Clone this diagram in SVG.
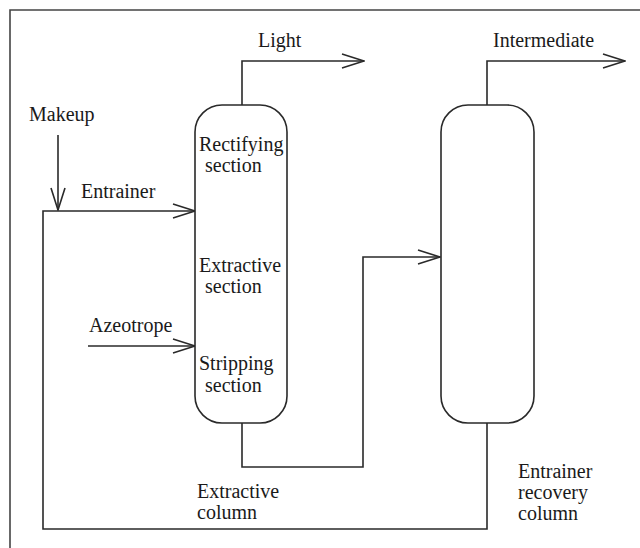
<svg xmlns="http://www.w3.org/2000/svg" width="640" height="548" viewBox="0 0 640 548">
<defs>
<style>
.ln{fill:none;stroke:#2a2a2a;stroke-width:1.6;stroke-linejoin:miter}
.fr{fill:none;stroke:#444;stroke-width:1.6}
.col{fill:#fff;stroke:#2a2a2a;stroke-width:1.6}
text{font-family:"Liberation Serif","Times New Roman",serif;font-size:20px;fill:#1a1a1a}
</style>
<marker id="ah" viewBox="0 0 24 16" refX="23" refY="8" markerWidth="24" markerHeight="16" markerUnits="userSpaceOnUse" orient="auto">
<path d="M1,1 L23,8 L1,15" fill="none" stroke="#2a2a2a" stroke-width="1.6"/>
</marker>
</defs>
<rect width="640" height="548" fill="#fff"/>
<path class="fr" d="M10,548 V10 H640"/>
<g id="connectors">
<path class="ln" d="M242,105 V61 H364" marker-end="url(#ah)"/>
<path class="ln" d="M487,105 V61 H625" marker-end="url(#ah)"/>
<path class="ln" d="M58,135 V210" marker-end="url(#ah)"/>
<path class="ln" d="M487,423 V529 H43 V211 H195" marker-end="url(#ah)"/>
<path class="ln" d="M88,346 H195" marker-end="url(#ah)"/>
<path class="ln" d="M242,423 V467 H363 V257 H440" marker-end="url(#ah)"/>
</g>
<g id="extractive-column">
<rect class="col" x="195" y="105" width="92" height="318" rx="27" ry="27"/>
<text x="199" y="151">Rectifying</text>
<text x="205" y="172">section</text>
<text x="199" y="272">Extractive</text>
<text x="205" y="293">section</text>
<text x="199" y="370">Stripping</text>
<text x="205" y="392">section</text>
<text x="197" y="498">Extractive</text>
<text x="197" y="519">column</text>
</g>
<g id="recovery-column">
<rect class="col" x="441" y="105" width="93" height="318" rx="27" ry="27"/>
<text x="518" y="478">Entrainer</text>
<text x="518" y="499">recovery</text>
<text x="518" y="520">column</text>
</g>
<g id="labels">
<text x="258" y="47">Light</text>
<text x="493" y="47">Intermediate</text>
<text x="29" y="121">Makeup</text>
<text x="81" y="198">Entrainer</text>
<text x="89" y="332">Azeotrope</text>
</g>
</svg>
